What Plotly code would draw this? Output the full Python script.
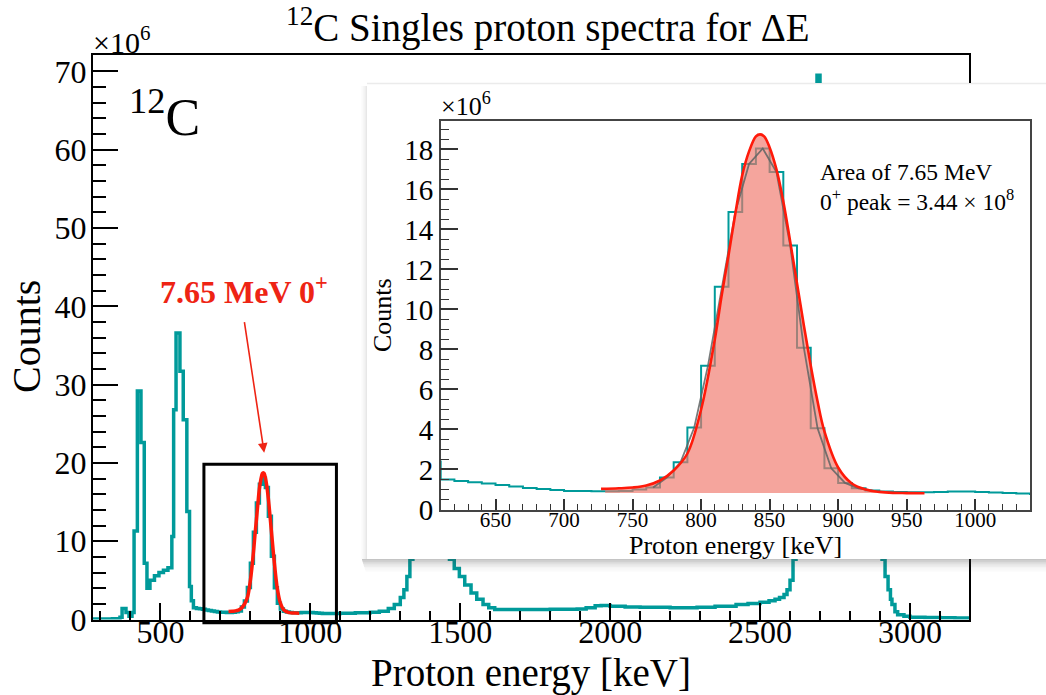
import plotly.graph_objects as go

W, H = 1046, 695
FONT = "Liberation Serif"
TEAL = "#009a9a"
RED = "#ff1a0a"

# ---------------- data (counts in units of 10^6) ----------------
bin_left_keV = [
    275, 300, 340, 365, 372, 385, 395, 405, 412, 423, 435, 446, 455, 465, 480, 495, 510, 525,
    538, 544, 552, 565, 576, 588, 597, 603,
    610, 620, 630, 640, 650, 660, 670, 680, 690, 700, 710, 720, 730, 740, 750, 760, 770, 780,
    790, 800, 810, 820, 830, 840, 850, 860, 870, 880, 890, 900, 910, 920, 930, 940, 950, 960,
    970, 980, 990, 1000, 1010, 1020, 1030, 1040,
    1060, 1100, 1150, 1200, 1230, 1260, 1280, 1300, 1312, 1322, 1332, 1342, 1352, 1362, 1372,
    1382, 1392, 1402, 1412, 1422, 1432, 1442, 1452, 1464, 1480, 1497, 1515, 1536, 1555, 1576,
    1595, 1615, 1700, 1800, 1890, 1920, 1950, 1970, 2000, 2050, 2100, 2200, 2290, 2350, 2420,
    2460, 2500, 2530, 2550, 2565, 2580, 2590, 2600, 2610, 2620, 2630, 2645, 2660, 2675, 2685,
    2690, 2700, 2710, 2730, 2760, 2800, 2840, 2870, 2890, 2900, 2907, 2917, 2927, 2935, 2940,
    2950, 2959, 2980, 3000, 3050, 3100, 3150,
]
counts_M = [
    0.05, 0.05, 0.08, 0.3, 1.4, 0.9, 0.4, 0.9, 11.3, 29.2, 22.6, 7.2, 4.0, 5.0, 5.6, 6.0, 6.3, 6.6,
    10.6, 26.8, 36.6, 31.7, 25.5, 13.8, 4.2, 2.4,
    1.5, 1.42, 1.36, 1.3, 1.22, 1.15, 1.08, 1.02, 0.97, 0.93, 0.92, 0.91, 0.91, 0.93, 1.0, 1.1,
    1.6, 2.36, 4.1, 7.18, 11.13, 14.87, 17.27, 18.05, 16.87, 13.2, 8.08, 4.06, 2.06, 1.33, 1.06,
    0.95, 0.9, 0.87, 0.86, 0.86, 0.88, 0.9, 0.9, 0.88, 0.85, 0.82, 0.8, 0.78,
    0.78, 0.8, 0.85, 0.92, 1.06, 1.4, 1.9, 2.8, 3.8, 5.5, 7.7, 12.0, 20.0, 30.0, 38.0,
    44.0, 46.0, 44.0, 38.0, 28.0, 19.0, 13.0, 9.5, 7.7, 6.5, 5.5, 4.4, 3.4, 2.6, 1.9,
    1.5, 1.28, 1.28, 1.3, 1.35, 1.5, 1.75, 1.8, 1.7, 1.6, 1.55, 1.5, 1.55, 1.7, 1.9,
    2.05, 2.2, 2.4, 2.6, 2.8, 3.2, 3.8, 5.0, 7.7, 14.0, 25.0, 40.0, 52.0, 60.0, 66.0,
    69.5, 67.0, 64.0, 60.0, 55.0, 48.0, 40.0, 28.0, 15.0, 9.0, 7.7, 5.5, 3.8, 2.6, 1.9,
    1.0, 0.6, 0.4, 0.3, 0.25, 0.22, 0.2,
]
hist_end_keV = 3200

# Gaussian fit of the 7.65 MeV 0+ peak
fit_keV = [727, 740, 750, 760, 770, 780, 790, 800, 810, 815, 820, 825, 830, 835, 840, 843, 846,
           850, 855, 860, 865, 870, 875, 880, 885, 890, 900, 910, 920, 930, 940, 950, 963]
fit_counts_M = [1.03, 1.06, 1.1, 1.2, 1.45, 1.95, 2.8, 5.0, 8.5, 10.7, 12.7, 14.8, 16.7, 17.9,
                18.65, 18.75, 18.65, 18.1, 17.0, 15.4, 13.4, 11.3, 9.2, 7.2, 5.4, 3.9, 2.1, 1.3,
                1.0, 0.88, 0.83, 0.82, 0.81]

# integrated (shaded) region of the peak
area_lo_keV, area_hi_keV = 730, 932
area_base_M = 0.83
peak_bin_lo_keV, peak_bin_hi_keV, bin_width_keV = 760, 920, 10

# highlight box on the main spectrum
box_keV = (645, 1087)
box_counts_M = (-0.41, 19.83)
# arrow tip
arrow_tip = (846, 21.3)

# axis ranges and ticks
main_x_range = [275, 3197]
main_y_range = [0, 72.1]
inset_x_range = [610, 1040]
inset_y_range = [0, 19.42]
main_x_ticks = [500, 1000, 1500, 2000, 2500, 3000]
main_y_ticks = [0, 10, 20, 30, 40, 50, 60, 70]
inset_x_ticks = [650, 700, 750, 800, 850, 900, 950, 1000]
inset_y_ticks = [0, 2, 4, 6, 8, 10, 12, 14, 16, 18]


def fx(p):
    return p / W


def fy(p):
    return 1 - p / H


fig = go.Figure()

# ---- main spectrum ----
hx = bin_left_keV + [hist_end_keV]
hy = counts_M + [counts_M[-1]]
fig.add_trace(go.Scatter(x=hx, y=hy, mode="lines", line=dict(color=TEAL, width=3.5, shape="hv"),
                         xaxis="x", yaxis="y", hoverinfo="skip"))
fig.add_trace(go.Scatter(x=fit_keV, y=fit_counts_M, mode="lines",
                         line=dict(color=RED, width=3.5, shape="spline"),
                         xaxis="x", yaxis="y", hoverinfo="skip"))

# ---- inset box (white card) ----
fig.add_trace(go.Scatter(x=[0.5], y=[0.5], mode="markers", marker=dict(size=1, opacity=0),
                         xaxis="x2", yaxis="y2", hoverinfo="skip"))

# ---- inset ----
fig.add_trace(go.Scatter(x=hx, y=hy, mode="lines", line=dict(color=TEAL, width=2, shape="hv"),
                         xaxis="x3", yaxis="y3", hoverinfo="skip"))
fig.add_trace(go.Scatter(x=[area_lo_keV, area_hi_keV], y=[area_base_M, area_base_M], mode="lines",
                         line=dict(width=0, color="rgba(0,0,0,0)"), xaxis="x3", yaxis="y3",
                         hoverinfo="skip"))
sel = [(x, y) for x, y in zip(fit_keV, fit_counts_M) if area_lo_keV <= x <= area_hi_keV]
fig.add_trace(go.Scatter(x=[area_lo_keV] + [s[0] for s in sel] + [area_hi_keV],
                         y=[fit_counts_M[0]] + [s[1] for s in sel] + [sel[-1][1]],
                         mode="lines", fill="tonexty", fillcolor="rgba(240,118,106,0.66)",
                         line=dict(width=0, shape="spline", color="rgba(0,0,0,0)"),
                         xaxis="x3", yaxis="y3", hoverinfo="skip"))
cen = [(x + bin_width_keV / 2, y) for x, y in zip(bin_left_keV, counts_M)
       if peak_bin_lo_keV <= x <= peak_bin_hi_keV]
fig.add_trace(go.Scatter(x=[c[0] for c in cen], y=[c[1] for c in cen], mode="lines",
                         line=dict(color="rgba(95,100,100,0.85)", width=1.8),
                         xaxis="x3", yaxis="y3", hoverinfo="skip"))
fig.add_trace(go.Scatter(x=fit_keV, y=fit_counts_M, mode="lines",
                         line=dict(color=RED, width=2.6, shape="spline"),
                         xaxis="x3", yaxis="y3", hoverinfo="skip"))

axis_common = dict(showgrid=False, zeroline=False, showline=True, mirror=True, ticks="inside",
                   fixedrange=True)

main_dom_x = [fx(93), fx(969)]
main_dom_y = [fy(619.5), fy(55)]
box_dom_x = [fx(367), 1.0]
box_dom_y = [fy(559), fy(83)]
ins_dom_x = [fx(440.7), fx(1030)]
ins_dom_y = [fy(509.5), fy(121)]

fig.update_layout(
    width=W, height=H, autosize=False,
    margin=dict(l=0, r=0, t=0, b=0, pad=0, autoexpand=False),
    paper_bgcolor="white", plot_bgcolor="white",
    showlegend=False,
    font=dict(family=FONT, color="black"),
    xaxis=dict(**axis_common, domain=main_dom_x, anchor="y", range=main_x_range,
               tickvals=main_x_ticks, ticklen=17, tickwidth=2, tickcolor="black",
               linecolor="black", linewidth=2, ticklabelstandoff=-17,
               minor=dict(dtick=100, tick0=0, ticklen=8.5, tickwidth=1.5, ticks="inside",
                          tickcolor="black"),
               tickfont=dict(family=FONT, size=32, color="black")),
    yaxis=dict(**axis_common, domain=main_dom_y, anchor="x", range=main_y_range,
               tickvals=main_y_ticks, ticklen=25, tickwidth=2, tickcolor="black",
               linecolor="black", linewidth=2, ticklabelstandoff=-2,
               minor=dict(dtick=2, tick0=0, ticklen=12.5, tickwidth=1.5, ticks="inside",
                          tickcolor="black"),
               tickfont=dict(family=FONT, size=32, color="black")),
    xaxis2=dict(domain=box_dom_x, anchor="y2", range=[0, 1], visible=False, fixedrange=True),
    yaxis2=dict(domain=box_dom_y, anchor="x2", range=[0, 1], visible=False, fixedrange=True),
    xaxis3=dict(**axis_common, domain=ins_dom_x, anchor="y3", range=inset_x_range,
                tickvals=inset_x_ticks, ticklen=11, tickwidth=1.5, tickcolor="#333",
                linecolor="#444", linewidth=1.5, ticklabelstandoff=-9,
                minor=dict(dtick=10, tick0=0, ticklen=5.7, tickwidth=1.2, ticks="inside",
                           tickcolor="#333"),
                tickfont=dict(family=FONT, size=21, color="black")),
    yaxis3=dict(**axis_common, domain=ins_dom_y, anchor="x3", range=inset_y_range,
                tickvals=inset_y_ticks, ticklen=17.7, tickwidth=1.5, tickcolor="#333",
                linecolor="#444", linewidth=1.5,
                minor=dict(dtick=0.5, tick0=0, ticklen=8.8, tickwidth=1.2, ticks="inside",
                           tickcolor="#333"),
                tickfont=dict(family=FONT, size=29, color="black")),
)

shapes = []
# highlight box
shapes.append(dict(type="rect", xref="x", yref="y domain", x0=box_keV[0], x1=box_keV[1],
                   y0=box_counts_M[0] / main_y_range[1], y1=box_counts_M[1] / main_y_range[1],
                   line=dict(color="black", width=3), fillcolor="rgba(0,0,0,0)", layer="above"))
# card shadow: bottom and left gradient
bottom_alphas = [0.30, 0.24, 0.18, 0.13, 0.09, 0.06, 0.035, 0.015]
for i, a in enumerate(bottom_alphas):
    shapes.append(dict(type="rect", xref="paper", yref="paper", x0=fx(362 + i * 0.5), x1=1.0,
                       y0=fy(559 + (i + 1) * 1.6), y1=fy(559 + i * 1.6),
                       line=dict(width=0), fillcolor=f"rgba(60,60,60,{a})", layer="above"))
left_alphas = [0.12, 0.08, 0.05, 0.03, 0.015]
for i, a in enumerate(left_alphas):
    shapes.append(dict(type="rect", xref="paper", yref="paper", x0=fx(367 - (i + 1) * 1.2),
                       x1=fx(367 - i * 1.2), y0=fy(559), y1=fy(86),
                       line=dict(width=0), fillcolor=f"rgba(60,60,60,{a})", layer="above"))
shapes.append(dict(type="line", xref="paper", yref="paper", x0=fx(367), x1=1.0, y0=fy(83.5),
                   y1=fy(83.5), line=dict(color="rgba(0,0,0,0.08)", width=1.5), layer="above"))
fig.update_layout(shapes=shapes)

ann = []


def text(x, y, s, size, xanchor="center", yanchor="middle", color="black", angle=0,
         bold=False):
    if bold:
        s = f"<b>{s}</b>"
    ann.append(dict(x=x, y=y, xref="paper", yref="paper", text=s, showarrow=False,
                    xanchor=xanchor, yanchor=yanchor, textangle=angle,
                    font=dict(family=FONT, size=size, color=color)))


text(fx(548), fy(25), "<sup>12</sup>C Singles proton spectra for ΔE", 39)
text(fx(91), fy(40), "×10<sup>6</sup>", 30, xanchor="left")
text(fx(127), fy(114), "<sup>12</sup>C", 52, xanchor="left")
text(fx(531), fy(673), "Proton energy [keV]", 39)
text(fx(26), fy(337), "Counts", 40, angle=-90)
text(fx(244), fy(290), "7.65 MeV 0<sup>+</sup>", 32, color="#ee2414", bold=True)
# inset texts
text(fx(439), fy(104), "×10<sup>6</sup>", 26, xanchor="left")
text(fx(735.5), fy(545), "Proton energy [keV]", 26)
text(fx(382), fy(315), "Counts", 26, angle=-90)
text(fx(818), fy(172), "Area of 7.65 MeV", 23.5, xanchor="left")
text(fx(818), fy(200), "0<sup>+</sup> peak = 3.44 × 10<sup>8</sup>", 23.5, xanchor="left")

# arrow pointing at the peak
ann.append(dict(x=arrow_tip[0], y=arrow_tip[1], xref="x", yref="y", text="", showarrow=True,
                ax=-20, ay=-132, arrowhead=2, arrowsize=1.2, arrowwidth=1.6,
                arrowcolor="#ee2414", standoff=0))
fig.update_layout(annotations=ann)

fig.write_html(
    "out.html",
    config={"responsive": False, "displayModeBar": False},
    post_script="document.body.style.margin='0';document.body.style.padding='0';"
                "document.body.style.overflow='hidden';",
)
